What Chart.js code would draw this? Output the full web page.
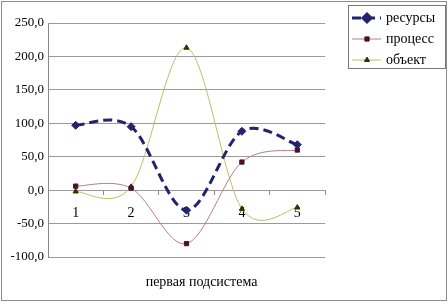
<!DOCTYPE html>
<html>
<head>
<meta charset="utf-8">
<script src="https://cdn.jsdelivr.net/npm/chart.js@4.4.1/dist/chart.umd.min.js"></script>
<style>
  html, body { margin: 0; padding: 0; background: #fff; }
  #wrap { width: 448px; height: 302px; position: relative; }
</style>
</head>
<body>
<div id="wrap"><canvas id="chart" width="448" height="302"></canvas></div>
<script>
// categories and series
const categories = ["1", "2", "3", "4", "5"];
const resursy = [97, 95, -30, 88, 68];
const process = [6, 3, -80, 42, 60];
const obekt = [-2, 5, 213, -28, -26];
const yTicks = { min: -100, max: 250, step: 50 };
const xTitle = "первая подсистема";

const serif = "'Liberation Serif', 'Times New Roman', serif";

// Excel-style smoothing: Catmull-Rom control points on the scaled points
const excelSmooth = {
  id: "excelSmooth",
  beforeDatasetDraw(chart, args) {
    const line = args.meta.dataset;
    const pts = args.meta.data;
    if (!line || !line.updateControlPoints) return;
    line.updateControlPoints(chart.chartArea, "x");
    pts.forEach((p, i) => {
      const prev = pts[Math.max(i - 1, 0)];
      const next = pts[Math.min(i + 1, pts.length - 1)];
      const dx = (next.x - prev.x) / 6;
      const dy = (next.y - prev.y) / 6;
      p.cp1x = p.x - dx; p.cp1y = p.y - dy;
      p.cp2x = p.x + dx; p.cp2y = p.y + dy;
    });
  }
};

// boxed legend + outer frame + x title
const decor = {
  id: "decor",
  afterDraw(chart) {
    const { ctx, chartArea } = chart;
    ctx.save();
    ctx.strokeStyle = "#8a8a8a";
    ctx.lineWidth = 1;
    ctx.strokeRect(1.5, 1.5, chart.width - 3, chart.height - 3);

    const lx = 348, ly = 5, lw = 97, lh = 63;
    ctx.strokeStyle = "#777";
    ctx.strokeRect(lx + 0.5, ly + 0.5, lw, lh);
    ctx.font = "14px " + serif;
    ctx.textBaseline = "middle";
    chart.data.datasets.forEach((ds, i) => {
      const y = ly + 13 + i * 21;
      ctx.save();
      ctx.strokeStyle = ds.borderColor;
      ctx.lineWidth = ds.borderWidth;
      ctx.setLineDash(ds.borderDash || []);
      ctx.beginPath();
      ctx.moveTo(lx + 4, y);
      ctx.lineTo(lx + 33, y);
      ctx.stroke();
      ctx.setLineDash([]);
      ctx.fillStyle = ds.pointBackgroundColor;
      ctx.strokeStyle = ds.pointBorderColor;
      Chart.helpers.drawPoint(ctx, {
        pointStyle: ds.pointStyle, radius: ds.pointRadius, rotation: 0, borderWidth: 1
      }, lx + 19, y);
      ctx.restore();
      ctx.fillStyle = "#000";
      ctx.textAlign = "left";
      ctx.fillText(ds.label, lx + 38, y);
    });

    ctx.font = "14px " + serif;
    ctx.fillStyle = "#000";
    ctx.textAlign = "center";
    ctx.textBaseline = "middle";
    ctx.fillText(xTitle, (chartArea.left + chartArea.right) / 2 + 15, 282);
    ctx.restore();
  }
};

new Chart(document.getElementById("chart"), {
  type: "line",
  data: {
    labels: categories,
    datasets: [
      {
        label: "ресурсы",
        data: resursy,
        borderColor: "#23236e",
        borderWidth: 3,
        borderDash: [9, 5],
        pointStyle: "rectRot",
        pointRadius: 4,
        pointBorderWidth: 1,
        pointBackgroundColor: "#23236e",
        pointBorderColor: "#23236e",
        tension: 0.4
      },
      {
        label: "процесс",
        data: process,
        borderColor: "#b87c8c",
        borderWidth: 1,
        pointStyle: "rect",
        pointRadius: 3,
        pointBorderWidth: 1,
        pointBackgroundColor: "#4a1426",
        pointBorderColor: "#4a1426",
        tension: 0.4
      },
      {
        label: "объект",
        data: obekt,
        borderColor: "#c2bb6c",
        borderWidth: 1,
        pointStyle: "triangle",
        pointRadius: 3,
        pointBorderWidth: 1,
        pointBackgroundColor: "#333300",
        pointBorderColor: "#333300",
        tension: 0.4
      }
    ]
  },
  options: {
    responsive: false,
    animation: false,
    layout: { padding: { left: 0, top: 23, right: 123, bottom: 45 } },
    plugins: {
      legend: { display: false },
      tooltip: { enabled: false }
    },
    scales: {
      x: {
        type: "category",
        position: { y: 0 },
        offset: true,
        grid: { drawOnChartArea: false, drawTicks: true, tickLength: 4, color: "#888", offset: true },
        border: { display: true, color: "#999" },
        ticks: { color: "#000", font: { family: serif, size: 14 }, padding: 11 }
      },
      y: {
        min: yTicks.min,
        max: yTicks.max,
        afterFit(scale) { scale.width = 48; },
        grid: { color: "#9a9a9a", drawTicks: false },
        border: { display: true, color: "#888" },
        ticks: {
          stepSize: yTicks.step,
          color: "#000",
          padding: 4,
          font: { family: serif, size: 13 },
          callback: (v) => v.toFixed(1).replace(".", ",")
        }
      }
    }
  },
  plugins: [excelSmooth, decor]
});
</script>
</body>
</html>
